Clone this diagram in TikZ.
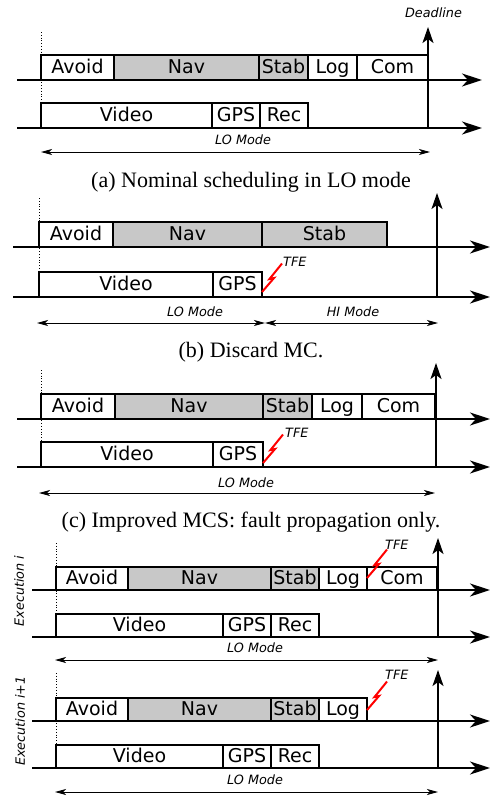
\documentclass[tikz,border=0pt]{standalone}
\usepackage{fontspec}
\setmainfont{Liberation Serif}
\newfontfamily\taskfont{DejaVu Sans}
\usetikzlibrary{arrows.meta}
\definecolor{mcgray}{RGB}{200,200,200}
\definecolor{faultred}{RGB}{255,0,0}

\tikzset{
  task/.style={draw, line width=2pt, inner sep=0pt, outer sep=0pt,
    minimum height=25pt, text height=14.5pt, text depth=2.5pt,
    font=\taskfont\fontsize{19}{19}\selectfont},
  taskd/.style={task, minimum height=23.5pt},
  hicrit/.style={fill=mcgray},
  locrit/.style={fill=white},
  timeline/.style={line width=2pt, -{Stealth[length=20pt,width=13pt,inset=6pt]}},
  deadline/.style={line width=2pt, -{Stealth[length=16pt,width=11pt,inset=4pt]}},
  modespan/.style={line width=0.9pt,
    {Stealth[length=11pt,width=6pt,inset=3pt]}-{Stealth[length=11pt,width=6pt,inset=3pt]}},
  release/.style={dotted, line width=0.8pt},
  note/.style={font=\taskfont\itshape\fontsize{12.8}{13}\selectfont, inner sep=0pt},
  caption/.style={font=\fontsize{22}{24}\selectfont, inner sep=0pt, anchor=base},
  bolt/.style={draw=faultred, line width=2pt},
}

% \job{name}{x left}{x right}{y bottom}{style}{label}
\newcommand{\job}[6]{%
  \node[#5, minimum width={(#3-#2)*1pt}, anchor=south west] (#1) at (#2,#4) {#6};}
% lightning bolt for a timing-fault event, starting at a named coordinate
\newcommand{\faultbolt}[1]{%
  \draw[bolt] (#1) -- ++(12,-14) -- ++(-4.5,1) -- ++(12.5,-15.5);}

\begin{document}
\begin{tikzpicture}[x=1pt,y=-1pt]
\useasboundingbox (0,0) rectangle (491,798);

%% ---------------- (a) nominal scheduling ----------------
\coordinate (a1s) at (17,80);  \coordinate (a1e) at (482,80);
\coordinate (a2s) at (17,128); \coordinate (a2e) at (482,128);
\draw[timeline] (a1s) -- (a1e);
\draw[timeline] (a2s) -- (a2e);
\job{aAvoid}{41}{114}{80}{task,locrit}{Avoid}
\job{aNav}{114}{259}{80}{task,hicrit}{Nav}
\job{aStab}{259}{308}{80}{task,hicrit}{Stab}
\job{aLog}{308}{357}{80}{task,locrit}{Log}
\job{aCom}{357}{428}{80}{task,locrit}{Com}
\job{aVideo}{41}{212}{128}{task,locrit}{Video}
\job{aGPS}{212}{260}{128}{task,locrit}{GPS}
\job{aRec}{260}{308}{128}{task,locrit}{Rec}
\coordinate (aRel1) at (41,32); \coordinate (aRel2) at (41,103);
\draw[release] (aRel1) -- (aRel2);
\coordinate (aDl0) at (428,128); \coordinate (aDl1) at (428,27);
\draw[deadline] (aDl0) -- (aDl1);
\node[note] (aDlText) at (433.5,13) {Deadline};
\node[note] (aLo) at (243,140) {LO Mode};
\coordinate (aSp1) at (41,152); \coordinate (aSp2) at (430,152);
\draw[modespan] (aSp1) -- (aSp2);
\node[caption] (capA) at (251,187) {(a) Nominal scheduling in LO mode};

%% ---------------- (b) discard MC ----------------
\coordinate (b1s) at (13,247); \coordinate (b1e) at (490,247);
\coordinate (b2s) at (13,297); \coordinate (b2e) at (490,297);
\draw[timeline] (b1s) -- (b1e);
\draw[timeline] (b2s) -- (b2e);
\job{bAvoid}{39}{113}{247}{task,locrit}{Avoid}
\job{bNav}{113}{262}{247}{task,hicrit}{Nav}
\job{bStab}{262}{387}{247}{task,hicrit}{Stab}
\job{bVideo}{39}{213}{297}{task,locrit}{Video}
\job{bGPS}{213}{262}{297}{task,locrit}{GPS}
\coordinate (bRel1) at (39,198); \coordinate (bRel2) at (39,273);
\draw[release] (bRel1) -- (bRel2);
\coordinate (bDl0) at (437,297); \coordinate (bDl1) at (437,193);
\draw[deadline] (bDl0) -- (bDl1);
\coordinate (bFault) at (262,292);
\faultbolt{bFault}
\node[note, anchor=west] (bTfe) at (283,262) {TFE};
\node[note] (bLo) at (195,312) {LO Mode};
\node[note] (bHi) at (353,312) {HI Mode};
\coordinate (bSp1) at (37,323); \coordinate (bSp2) at (265,323);
\coordinate (bSp3) at (438,323);
\draw[modespan] (bSp1) -- (bSp2);
\draw[modespan] (bSp2) -- (bSp3);
\node[caption] (capB) at (251,357) {(b) Discard MC.};

%% ---------------- (c) fault propagation only ----------------
\coordinate (c1s) at (17,419); \coordinate (c1e) at (490,419);
\coordinate (c2s) at (17,467); \coordinate (c2e) at (490,467);
\draw[timeline] (c1s) -- (c1e);
\draw[timeline] (c2s) -- (c2e);
\job{cAvoid}{41}{115}{419}{task,locrit}{Avoid}
\job{cNav}{115}{263}{419}{task,hicrit}{Nav}
\job{cStab}{263}{312}{419}{task,hicrit}{Stab}
\job{cLog}{312}{362}{419}{task,locrit}{Log}
\job{cCom}{362}{435}{419}{task,locrit}{Com}
\job{cVideo}{41}{213}{467}{task,locrit}{Video}
\job{cGPS}{213}{263}{467}{task,locrit}{GPS}
\coordinate (cRel1) at (41,370); \coordinate (cRel2) at (41,443);
\draw[release] (cRel1) -- (cRel2);
\coordinate (cDl0) at (436,467); \coordinate (cDl1) at (436,363);
\draw[deadline] (cDl0) -- (cDl1);
\coordinate (cFault) at (263,463);
\faultbolt{cFault}
\node[note, anchor=west] (cTfe) at (285,433) {TFE};
\node[note] (cLo) at (246,483) {LO Mode};
\coordinate (cSp1) at (39,493); \coordinate (cSp2) at (435,493);
\draw[modespan] (cSp1) -- (cSp2);
\node[caption] (capC) at (251,527) {(c) Improved MCS: fault propagation only.};

%% ---------------- (d) execution i ----------------
\coordinate (d1s) at (32,590); \coordinate (d1e) at (490,590);
\coordinate (d2s) at (32,637); \coordinate (d2e) at (490,637);
\draw[timeline] (d1s) -- (d1e);
\draw[timeline] (d2s) -- (d2e);
\job{dAvoid}{56}{128}{590}{taskd,locrit}{Avoid}
\job{dNav}{128}{271}{590}{taskd,hicrit}{Nav}
\job{dStab}{271}{319}{590}{taskd,hicrit}{Stab}
\job{dLog}{319}{367}{590}{taskd,locrit}{Log}
\job{dCom}{367}{437}{590}{taskd,locrit}{Com}
\job{dVideo}{56}{223}{637}{taskd,locrit}{Video}
\job{dGPS}{223}{271}{637}{taskd,locrit}{GPS}
\job{dRec}{271}{319}{637}{taskd,locrit}{Rec}
\coordinate (dRel1) at (56,543); \coordinate (dRel2) at (56,613);
\draw[release] (dRel1) -- (dRel2);
\coordinate (dDl0) at (438,637); \coordinate (dDl1) at (438,538);
\draw[deadline] (dDl0) -- (dDl1);
\coordinate (dFault) at (367,578);
\faultbolt{dFault}
\node[note, anchor=west] (dTfe) at (385,545) {TFE};
\node[note] (dLo) at (255,648) {LO Mode};
\coordinate (dSp1) at (55,660); \coordinate (dSp2) at (438,660);
\draw[modespan] (dSp1) -- (dSp2);
\node[note, rotate=90] (dExec) at (19,591) {Execution i};

%% ---------------- (e) execution i+1 ----------------
\coordinate (e1s) at (32,721); \coordinate (e1e) at (490,721);
\coordinate (e2s) at (32,768); \coordinate (e2e) at (490,768);
\draw[timeline] (e1s) -- (e1e);
\draw[timeline] (e2s) -- (e2e);
\job{eAvoid}{56}{128}{721}{taskd,locrit}{Avoid}
\job{eNav}{128}{271}{721}{taskd,hicrit}{Nav}
\job{eStab}{271}{319}{721}{taskd,hicrit}{Stab}
\job{eLog}{319}{367}{721}{taskd,locrit}{Log}
\job{eVideo}{56}{223}{768}{taskd,locrit}{Video}
\job{eGPS}{223}{271}{768}{taskd,locrit}{GPS}
\job{eRec}{271}{319}{768}{taskd,locrit}{Rec}
\coordinate (eRel1) at (56,673); \coordinate (eRel2) at (56,745);
\draw[release] (eRel1) -- (eRel2);
\coordinate (eDl0) at (438,768); \coordinate (eDl1) at (438,670);
\draw[deadline] (eDl0) -- (eDl1);
\coordinate (eFault) at (367,710);
\faultbolt{eFault}
\node[note, anchor=west] (eTfe) at (385,675) {TFE};
\node[note] (eLo) at (255,780) {LO Mode};
\coordinate (eSp1) at (55,792); \coordinate (eSp2) at (438,792);
\draw[modespan] (eSp1) -- (eSp2);
\node[note, rotate=90] (eExec) at (20,721) {Execution i+1};
\end{tikzpicture}
\end{document}
